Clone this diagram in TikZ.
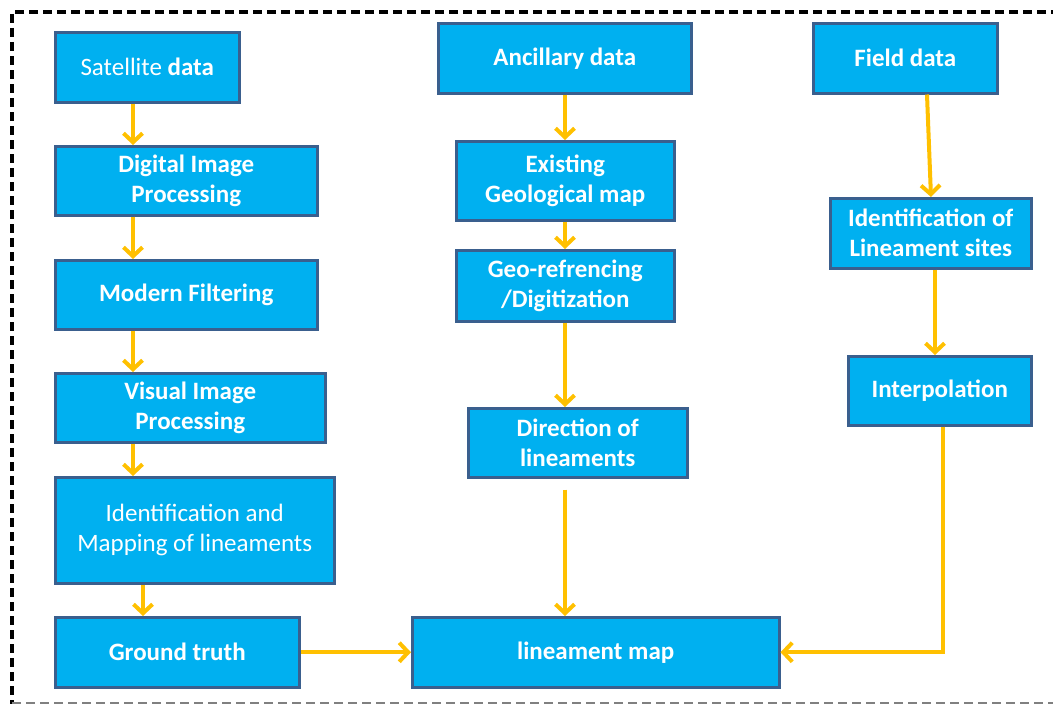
\documentclass[tikz,border=0pt]{standalone}
\usepackage{fontspec}
\setmainfont{Carlito}
\usetikzlibrary{arrows.meta, positioning}
\definecolor{boxfill}{HTML}{00B0F0}
\definecolor{boxline}{HTML}{3A5F8E}
\definecolor{flowline}{HTML}{FFC000}

\begin{document}
\begin{tikzpicture}[x=1pt, y=-1pt]
    \tikzset{
        block/.style = {rectangle, draw=boxline, line width=2.5pt, fill=boxfill, text=white, align=center, anchor=north west, inner sep=0pt, font=\fontsize{25}{30}\selectfont\bfseries},
        plain/.style = {font=\fontsize{25}{30}\selectfont\mdseries},
        line/.style = {draw=flowline, line width=4pt, -{Straight Barb[length=9pt, width=19pt, line width=4pt]}},
        frame/.style = {line width=4pt, dash pattern=on 9pt off 5pt}
    }
    \useasboundingbox (0,0) rectangle (1053,704);

    % outer frame
    \draw[frame] (1060,12) -- (12,12) -- (12,704);
    \draw[gray, line width=1.2pt, dash pattern=on 9pt off 5pt] (12,703) -- (1053,703);

    % remote sensing branch
    \node[block, minimum width=184pt, minimum height=70pt] (sat) at (54,31) {\mdseries Satellite \bfseries data};
    \node[block, minimum width=262pt, minimum height=69pt] (dip) at (54,145) {Digital Image\\Processing};
    \node[block, minimum width=262pt, minimum height=69pt] (filter) at (54,259) {Modern Filtering};
    \node[block, minimum width=270pt, minimum height=69pt] (vip) at (54,372) {Visual Image\\Processing};
    \node[block, plain, minimum width=279pt, minimum height=106pt] (ident) at (54,476) {Identification and\\Mapping of lineaments};
    \node[block, minimum width=244pt, minimum height=70pt] (ground) at (54,616) {Ground truth};

    % ancillary branch
    \node[block, minimum width=253pt, minimum height=70pt] (anc) at (437,22) {Ancillary data};
    \node[block, minimum width=218pt, minimum height=79pt] (geomap) at (455,140) {Existing\\Geological map};
    \node[block, minimum width=218pt, minimum height=71pt] (georef) at (455,249) {Geo-refrencing\\/Digitization};
    \node[block, minimum width=219pt, minimum height=69pt] (dir) at (467,407) {Direction of\\lineaments};
    \node[block, minimum width=367pt, minimum height=70pt] (lmap) at (411,616) {lineament map};

    % field branch
    \node[block, minimum width=184pt, minimum height=70pt] (field) at (812,22) {Field data};
    \node[block, minimum width=201pt, minimum height=70pt] (sites) at (829,197) {Identification of\\Lineament sites};
    \node[block, minimum width=183pt, minimum height=69pt] (interp) at (847,355) {Interpolation};

    \coordinate (colA) at (133,0);
    \coordinate (colB) at (143,0);
    \coordinate (colC) at (565,0);
    \coordinate (colD) at (927,0);
    \coordinate (colE) at (931,0);
    \coordinate (colF) at (935,0);
    \coordinate (colG) at (943,0);

    \path[line] (sat.south -| colA) -- (dip.north -| colA);
    \path[line] (dip.south -| colA) -- (filter.north -| colA);
    \path[line] (filter.south -| colA) -- (vip.north -| colA);
    \path[line] (vip.south -| colA) -- (ident.north -| colA);
    \path[line] (ident.south -| colB) -- (ground.north -| colB);
    \path[line] (ground.east) -- (lmap.west);

    \path[line] (anc.south -| colC) -- (geomap.north -| colC);
    \path[line] (geomap.south -| colC) -- (georef.north -| colC);
    \path[line] (georef.south -| colC) -- (dir.north -| colC);
    \path[line] ([yshift=-11pt]dir.south -| colC) -- (lmap.north -| colC);

    \path[line] (field.south -| colD) -- (sites.north -| colE);
    \path[line] (sites.south -| colF) -- (interp.north -| colF);
    \path[line] (interp.south -| colG) |- (lmap.east);
\end{tikzpicture}
\end{document}
